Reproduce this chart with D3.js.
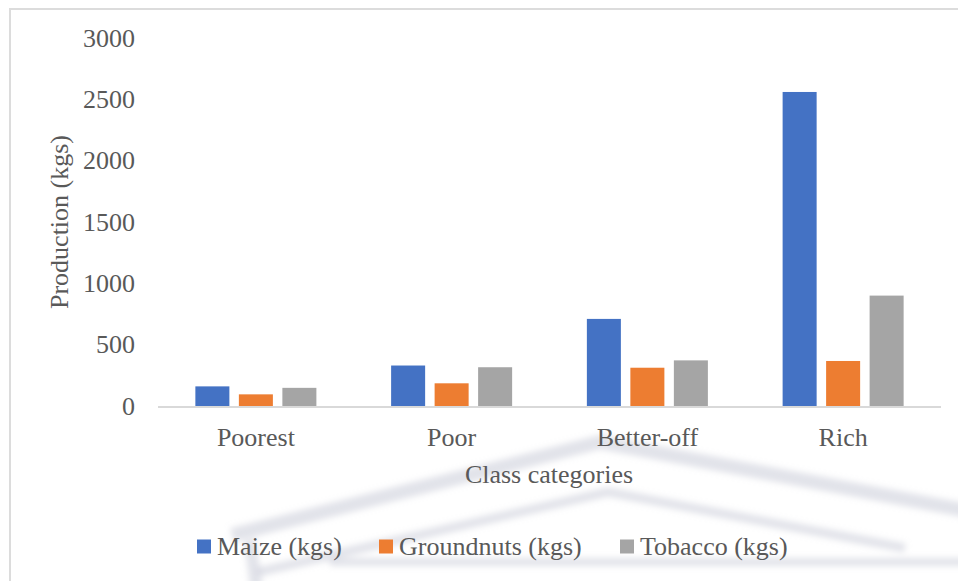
<!DOCTYPE html>
<html>
<head>
<meta charset="utf-8">
<script src="https://cdn.jsdelivr.net/npm/d3@7"></script>
<style>
  html, body { margin: 0; padding: 0; background: #ffffff; }
  svg { display: block; }
</style>
</head>
<body>
<script>
// Crop production by household class
const categories = ["Poorest", "Poor", "Better-off", "Rich"];
const seriesNames = ["Maize (kgs)", "Groundnuts (kgs)", "Tobacco (kgs)"];
const maize = [160, 330, 710, 2560];
const groundnuts = [95, 185, 312, 367];
const tobacco = [148, 316, 372, 900];
const yTicks = [0, 500, 1000, 1500, 2000, 2500, 3000];
const seriesColors = ["#4472C4", "#ED7D31", "#A5A5A5"];

const FONT = "'Liberation Serif', 'Times New Roman', Times, serif";
const TEXT_COLOR = "#595959";

const W = 958, H = 581;
const plot = { left: 158, right: 941, top: 38, bottom: 406 };

const svg = d3.select("body").append("svg")
  .attr("width", W).attr("height", H);

// Chart frame
svg.append("rect")
  .attr("x", 10).attr("y", 9)
  .attr("width", 970).attr("height", 600)
  .attr("fill", "#ffffff")
  .attr("stroke", "#dcdcdc").attr("stroke-width", 2);

// Faint emblem in the lower background
const defs = svg.append("defs");
defs.append("filter").attr("id", "soft")
  .append("feGaussianBlur").attr("stdDeviation", 3);
const emblem = svg.append("g")
  .attr("filter", "url(#soft)")
  .attr("fill", "none")
  .attr("stroke", "#b9bccd")
  .attr("stroke-opacity", 0.42)
  .attr("stroke-linejoin", "round");
emblem.append("path").attr("stroke-width", 14)
  .attr("d", "M232,535 L600,442 L975,512");
emblem.append("path").attr("stroke-width", 9)
  .attr("d", "M258,572 L608,492 L905,548");
emblem.append("path").attr("stroke-width", 8)
  .attr("d", "M330,562 L975,562");
emblem.append("path").attr("stroke-width", 12)
  .attr("d", "M250,540 L258,600");

// Scales
const x0 = d3.scaleBand()
  .domain(categories)
  .range([plot.left, plot.right])
  .paddingInner(1 / 3)
  .paddingOuter(1 / 6);

const x1 = d3.scaleBand()
  .domain(seriesNames)
  .range([0, x0.bandwidth()])
  .paddingInner(0.218)
  .paddingOuter(0.109);

const y = d3.scaleLinear()
  .domain([0, 3000])
  .range([plot.bottom, plot.top]);

const color = d3.scaleOrdinal().domain(seriesNames).range(seriesColors);

const rows = categories.map((c, i) => ({
  category: c,
  values: [
    { key: seriesNames[0], value: maize[i] },
    { key: seriesNames[1], value: groundnuts[i] },
    { key: seriesNames[2], value: tobacco[i] }
  ]
}));

function styleText(sel) {
  sel.style("font-family", FONT)
    .style("font-size", "26px")
    .style("fill", TEXT_COLOR);
}

// Y axis labels (no line, no ticks)
const yAxis = svg.append("g")
  .attr("transform", `translate(${plot.left},0)`)
  .call(d3.axisLeft(y).tickValues(yTicks).tickSize(0).tickPadding(23).tickFormat(d3.format("d")));
yAxis.select(".domain").remove();
yAxis.selectAll("text").call(styleText);

// Bars
svg.append("g")
  .selectAll("g")
  .data(rows)
  .join("g")
  .attr("transform", d => `translate(${x0(d.category)},0)`)
  .selectAll("rect")
  .data(d => d.values)
  .join("rect")
  .attr("x", d => x1(d.key))
  .attr("y", d => y(d.value))
  .attr("width", x1.bandwidth())
  .attr("height", d => y(0) - y(d.value))
  .attr("fill", d => color(d.key));

// X axis
const xAxis = svg.append("g")
  .attr("transform", `translate(0,${plot.bottom})`)
  .call(d3.axisBottom(x0).tickSize(0).tickPadding(0));
xAxis.select(".domain")
  .attr("stroke", "#d9d9d9").attr("stroke-width", 2)
  .attr("d", `M${plot.left},1H${plot.right}`);
xAxis.selectAll("text")
  .attr("y", 40).attr("dy", 0)
  .call(styleText);

// Axis titles
svg.append("text")
  .attr("x", 549).attr("y", 483)
  .attr("text-anchor", "middle")
  .call(styleText)
  .text("Class categories");

svg.append("text")
  .attr("transform", "translate(68,222) rotate(-90)")
  .attr("text-anchor", "middle")
  .call(styleText)
  .text("Production (kgs)");

// Legend
const legendX = [197, 379, 620];
const legend = svg.append("g")
  .selectAll("g")
  .data(seriesNames)
  .join("g")
  .attr("transform", (d, i) => `translate(${legendX[i]},539.5)`);
legend.append("rect")
  .attr("width", 14).attr("height", 14)
  .attr("fill", d => color(d));
legend.append("text")
  .attr("x", 20).attr("y", 15.5)
  .call(styleText)
  .text(d => d);
</script>
</body>
</html>
